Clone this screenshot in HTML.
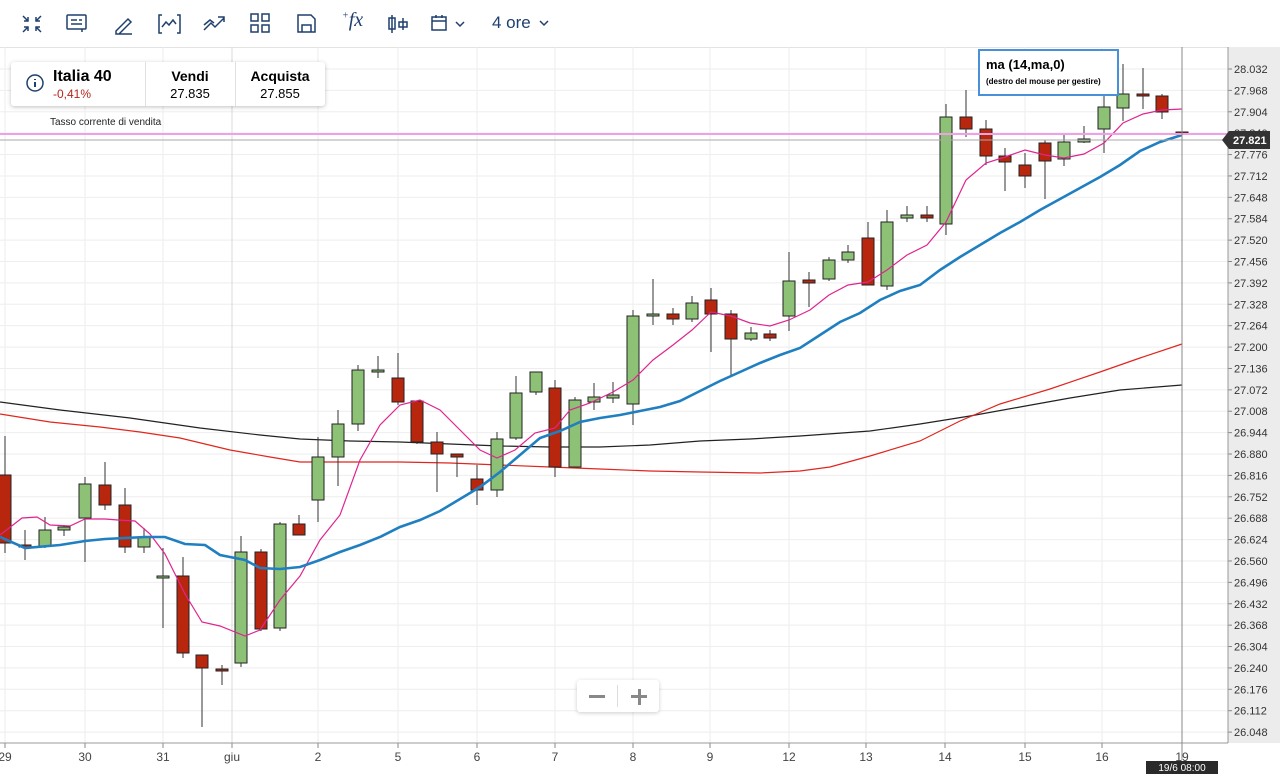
<!DOCTYPE html>
<html><head><meta charset="utf-8"><style>
body{margin:0;width:1280px;height:774px;overflow:hidden;background:#fff;font-family:"Liberation Sans",sans-serif;position:relative}
.tb{position:absolute;left:0;top:0;width:1280px;height:47px;border-bottom:1px solid #e3e3e3;background:#fff}
.ic{position:absolute;top:12px;color:#1f3f6e;font-size:20px}
.info{position:absolute;left:11px;top:62px;width:314px;height:44px;background:#fff;box-shadow:0 1px 4px rgba(0,0,0,.25);border-radius:3px}
.sep{position:absolute;top:0;width:1px;height:44px;background:#e0e0e0}
</style></head><body>
<div class="tb">
<svg width="560" height="47" style="position:absolute;left:0;top:0" fill="none" stroke="#1f3f6e" stroke-width="1.5">
<path d="M23 16l5 5M28 17v4h-4M41 16l-5 5M36 17v4h4M23 32l5-5M24 27h4v4M41 32l-5-5M40 27h-4v4"/>
<rect x="67" y="15" width="19" height="14" rx="1"/><path d="M71 20h6M71 24h11M79 20h3M82 29v3"/>
<path d="M116 31l12-12 3 3-12 12h-3zM116 34h16"/>
<path d="M162 15h-3v18h3M177 15h3v18h-3M162 27l4-5 3 3 4-5 3 4"/>
<path d="M204 30l7-7 4 4 9-9M218 17h6v5M204 25l6-5 4 3"/>
<rect x="251" y="14" width="7" height="7"/><rect x="262" y="14" width="7" height="7"/><rect x="251" y="25" width="7" height="7"/><rect x="262" y="25" width="7" height="7"/>
<path d="M298 15h13l4 4v13h-17zM302 32v-7h9v7"/>
<path d="M392 15v18M389 18h6v11h-6zM403 18v12M399 22h8v5h-8z"/>
<rect x="432" y="17" width="14" height="13"/><path d="M432 21h14M436 15v3M442 15v3M456 22l4 4 4-4M540 21l4 4 4-4"/>
</svg>
<div style="position:absolute;left:342px;top:9px;font-family:'Liberation Serif',serif;font-style:italic;font-size:20px;color:#1f3f6e"><sup style="font-size:10px">+</sup>fx</div>
<div style="position:absolute;left:492px;top:13px;font-size:17px;color:#1f3f6e">4 ore</div>
</div>
<svg id="c" width="1280" height="727" style="position:absolute;left:0;top:47px"></svg>
<div class="info">
<svg width="20" height="20" style="position:absolute;left:14px;top:11px"><circle cx="10" cy="10" r="8" fill="none" stroke="#1f3f6e" stroke-width="1.5"/><path d="M10 9v5M10 6v1" stroke="#1f3f6e" stroke-width="2"/></svg>
<div style="position:absolute;left:42px;top:6px;font-weight:bold;font-size:16px">Italia 40</div>
<div style="position:absolute;left:42px;top:25px;font-size:12px;color:#b3261e">-0,41%</div>
<div class="sep" style="left:134px"></div><div class="sep" style="left:224px"></div>
<div style="position:absolute;left:134px;width:90px;top:6px;text-align:center;font-weight:bold;font-size:14px">Vendi</div>
<div style="position:absolute;left:134px;width:90px;top:24px;text-align:center;font-size:13px">27.835</div>
<div style="position:absolute;left:224px;width:90px;top:6px;text-align:center;font-weight:bold;font-size:14px">Acquista</div>
<div style="position:absolute;left:224px;width:90px;top:24px;text-align:center;font-size:13px">27.855</div>
</div>
<div style="position:absolute;left:50px;top:117px;font-size:10px;color:#222">Tasso corrente di vendita</div>
<div style="position:absolute;left:978px;top:49px;width:137px;height:43px;border:2px solid #4a90d9;background:#fff">
<div style="position:absolute;left:6px;top:6px;font-weight:bold;font-size:13px">ma (14,ma,0)</div>
<div style="position:absolute;left:6px;top:26px;font-weight:bold;font-size:8px">(destro del mouse per gestire)</div></div>
<div style="position:absolute;left:577px;top:680px;width:82px;height:32px;background:#fff;box-shadow:0 1px 4px rgba(0,0,0,.2);border-radius:3px">
<div style="position:absolute;left:40px;top:5px;width:1px;height:22px;background:#ddd"></div>
<div style="position:absolute;left:12px;top:15px;width:16px;height:3px;background:#888"></div>
<div style="position:absolute;left:54px;top:15px;width:16px;height:3px;background:#888"></div>
<div style="position:absolute;left:60.5px;top:8.5px;width:3px;height:16px;background:#888"></div>
</div>
<script>
var s='',O=47;function Y(y){return y-O}
var svg=document.getElementById('c');
// axis bg
s+='<rect x="1228" y="0" width="52" height="'+(743-O)+'" fill="#ececec"/>';
var p0=28.032;
for(var i=0;i<32;i++){var y=69+i*21.39;if(y>735)break;var v=(p0-i*0.064).toFixed(3);
s+='<line x1="0" x2="1228" y1="'+Y(y)+'" y2="'+Y(y)+'" stroke="#eeeeee"/>';
s+='<line x1="1228" x2="1232" y1="'+Y(y)+'" y2="'+Y(y)+'" stroke="#888"/>';
s+='<text x="1234" y="'+(Y(y)+4)+'" font-size="11" fill="#333">'+v+'</text>';}
var days=[[5,'29'],[85,'30'],[163,'31'],[232,'giu'],[318,'2'],[398,'5'],[477,'6'],[555,'7'],[633,'8'],[710,'9'],[789,'12'],[866,'13'],[945,'14'],[1025,'15'],[1102,'16'],[1182,'19']];
days.forEach(function(d){s+='<line x1="'+d[0]+'" x2="'+d[0]+'" y1="0" y2="'+Y(743)+'" stroke="'+(d[1]=='giu'?'#d8d8d8':'#eeeeee')+'"/>';
s+='<line x1="'+d[0]+'" x2="'+d[0]+'" y1="'+Y(743)+'" y2="'+Y(748)+'" stroke="#888"/>';
s+='<text x="'+d[0]+'" y="'+Y(761)+'" font-size="12" fill="#444" text-anchor="middle">'+d[1]+'</text>';});
s+='<line x1="0" x2="1228" y1="'+Y(743)+'" y2="'+Y(743)+'" stroke="#999"/><line x1="1228" x2="1228" y1="0" y2="'+Y(743)+'" stroke="#999"/>';
function pl(pts,c,w){return '<polyline fill="none" stroke="'+c+'" stroke-width="'+w+'" points="'+pts.map(function(p){return p[0]+','+Y(p[1])}).join(' ')+'"/>';}
var red=[[0,414],[50,422],[100,427],[140,432],[180,438],[230,450],[270,457],[300,462],[350,462],[400,462],[450,463],[500,465],[550,467],[600,469],[650,471],[700,472],[760,473],[800,471],[830,467],[870,456],[920,441],[960,421],[1000,404],[1050,389],[1100,372],[1140,358],[1182,344]];
var blk=[[0,402],[60,410],[130,418],[200,428],[260,435],[300,439],[350,441],[400,442],[450,444],[500,446],[550,447],[600,447],[650,445],[700,441],[750,439],[800,436],[870,431],[920,424],[970,416],[1020,407],[1070,398],[1120,390],[1182,385]];
s+=pl(blk,'#222',1.2)+pl(red,'#e0261e',1.2);
var C=[[5,475,543,436,553,0],[25,545,547,530,560,0],[45,530,546,517,548,1],[64,527,530,525,536,1],[85,484,518,477,562,1],[105,485,505,462,510,0],[125,505,547,488,553,0],[144,537,547,528,553,1],[163,576,578,548,628,1],[183,576,653,557,658,0],[202,655,668,655,727,0],[222,669,671,665,685,0],[241,552,663,536,667,1],[261,552,629,549,631,0],[280,524,628,522,631,1],[299,524,535,515,535,0],[318,457,500,437,522,1],[338,424,457,410,486,1],[358,370,424,365,431,1],[378,370,372,356,378,1],[398,378,402,353,405,0],[417,401,442,401,444,0],[437,442,454,432,492,0],[457,454,457,454,477,0],[477,479,490,465,505,0],[497,439,490,432,497,1],[516,393,438,376,440,1],[536,372,392,372,395,1],[555,388,467,380,477,0],[575,400,467,397,467,1],[594,397,402,383,410,1],[613,395,398,382,403,1],[633,316,404,310,425,1],[653,314,316,279,325,1],[673,314,319,308,325,0],[692,303,319,296,322,1],[711,300,314,288,352,0],[731,314,339,310,375,0],[751,333,339,327,341,1],[770,334,338,330,341,0],[789,281,316,252,331,1],[809,280,283,272,307,0],[829,260,279,257,281,1],[848,252,260,245,263,1],[868,238,285,222,285,0],[887,222,286,210,290,1],[907,215,218,206,222,1],[927,215,218,206,222,0],[946,117,224,104,235,1],[966,117,129,90,137,0],[986,129,156,120,165,0],[1005,156,162,148,191,0],[1025,165,176,153,188,0],[1045,143,161,140,199,0],[1064,142,159,135,166,1],[1084,139,142,126,143,1],[1104,107,129,93,153,1],[1123,94,108,64,121,1],[1143,94,96,68,109,0],[1162,96,112,94,119,0],[1182,132,134,132,134,0]];
C.forEach(function(c){s+='<line x1="'+c[0]+'" x2="'+c[0]+'" y1="'+Y(c[3])+'" y2="'+Y(c[4])+'" stroke="#333"/>';
s+='<rect x="'+(c[0]-6)+'" y="'+Y(c[1])+'" width="12" height="'+Math.max(2,c[2]-c[1])+'" fill="'+(c[5]?'#8cc176':'#b9260e')+'" stroke="#222" stroke-width="1"/>';});
var blue=[[0,537],[25,548],[60,545],[85,541],[105,539],[125,538],[145,537],[165,537],[185,544],[205,545],[220,555],[245,560],[260,568],[280,569],[300,567],[320,560],[340,552],[360,545],[380,537],[400,527],[420,520],[440,511],[460,499],[480,487],[500,472],[520,455],[540,438],[560,431],[580,422],[600,418],[620,415],[640,411],[660,407],[680,401],[700,391],[720,381],[740,372],[760,363],[780,355],[800,348],[820,335],[840,322],[860,313],[880,300],[900,291],[920,285],[940,270],[960,257],[980,245],[1000,233],[1020,222],[1040,210],[1060,199],[1080,188],[1100,177],[1120,165],[1140,151],[1160,142],[1182,135]];
var pink=[[0,535],[22,518],[37,517],[50,525],[70,526],[85,519],[105,519],[118,520],[135,521],[150,534],[165,554],[185,594],[202,622],[220,626],[245,636],[260,630],[280,600],[300,576],[320,540],[340,515],[360,460],[380,425],[400,405],[420,400],[440,410],[460,430],[480,450],[497,458],[515,450],[535,433],[555,428],[570,410],[590,403],[613,392],[633,380],[653,360],[673,345],[692,330],[711,312],[731,316],[750,323],[770,326],[789,320],[810,310],[829,295],[848,285],[868,282],[887,270],[907,255],[927,245],[946,222],[966,180],[986,163],[1005,157],[1025,150],[1045,155],[1064,158],[1084,154],[1104,143],[1123,123],[1143,114],[1162,110],[1182,109]];
s+=pl(pink,'#e0248f',1.2)+pl(blue,'#1f7fc0',2.6);
s+='<line x1="0" x2="1228" y1="'+Y(134)+'" y2="'+Y(134)+'" stroke="#f0a0e8" stroke-width="2"/>';
s+='<line x1="0" x2="1228" y1="'+Y(140)+'" y2="'+Y(140)+'" stroke="#aaa"/>';
s+='<line x1="1182" x2="1182" y1="0" y2="'+Y(760)+'" stroke="#888"/>';
s+='<path d="M1222 '+Y(140)+' l7 -9 h41 v18 h-41z" fill="#333"/><text x="1233" y="'+(Y(140)+4)+'" font-size="11" fill="#fff" font-weight="bold">27.821</text>';
s+='<rect x="1146" y="'+Y(761)+'" width="72" height="13" fill="#2a2a2a"/><text x="1182" y="'+Y(771)+'" font-size="10" fill="#fff" text-anchor="middle">19/6 08:00</text>';
svg.innerHTML=s;
</script>
</body></html>
